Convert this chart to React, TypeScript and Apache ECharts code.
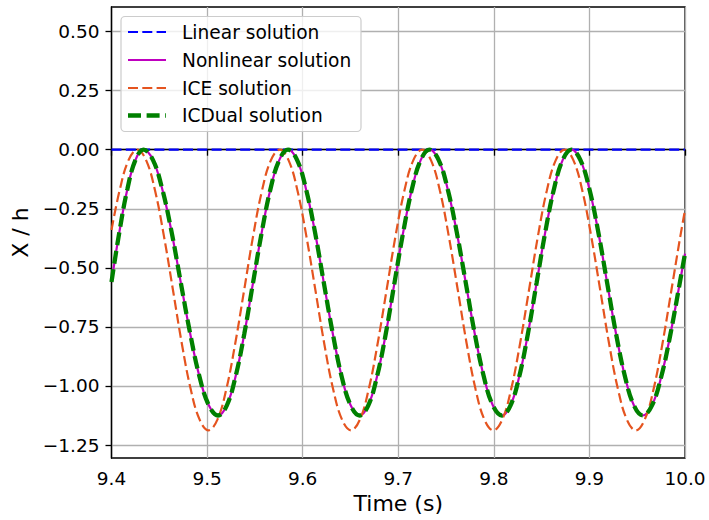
import React, { useEffect, useRef } from "react";
import * as echarts from "echarts";

const xTicks = [9.4, 9.5, 9.6, 9.7, 9.8, 9.9, 10.0];
const yTicks = [-1.25, -1.0, -0.75, -0.5, -0.25, 0.0, 0.25, 0.5];

const linearTime = [9.4, 10.0];
const linearX = [0, 0];

const nonlinearTime = [
  9.4, 9.4083, 9.4167, 9.4251, 9.4335,
  9.4433, 9.453, 9.4628, 9.4725, 9.4823, 9.492, 9.5018, 9.5115,
  9.5207, 9.5298, 9.539, 9.5481, 9.5573, 9.5664, 9.5756, 9.5847,
  9.5941, 9.6034, 9.6128, 9.6221, 9.6315, 9.6408, 9.6502, 9.6595,
  9.6687, 9.6778, 9.687, 9.6961, 9.7053, 9.7144, 9.7236, 9.7327,
  9.7422, 9.7516, 9.7611, 9.7706, 9.78, 9.7895, 9.7989, 9.8084,
  9.8175, 9.8266, 9.8357, 9.8448, 9.8539, 9.863, 9.8721, 9.8812,
  9.8905, 9.8999, 9.9092, 9.9185, 9.9278, 9.9372, 9.9465, 9.9558,
  9.9655, 9.9752, 9.9849, 9.9946, 10.0,
];
const nonlinearX = [
  -0.56, -0.347, -0.165, -0.043, 0,
  -0.043, -0.165, -0.347, -0.5625, -0.778, -0.96, -1.082, -1.125,
  -1.082, -0.96, -0.778, -0.5625, -0.347, -0.165, -0.043, 0,
  -0.043, -0.165, -0.347, -0.5625, -0.778, -0.96, -1.082, -1.125,
  -1.082, -0.96, -0.778, -0.5625, -0.347, -0.165, -0.043, 0,
  -0.043, -0.165, -0.347, -0.5625, -0.778, -0.96, -1.082, -1.125,
  -1.082, -0.96, -0.778, -0.5625, -0.347, -0.165, -0.043, 0,
  -0.043, -0.165, -0.347, -0.5625, -0.778, -0.96, -1.082, -1.125,
  -1.082, -0.96, -0.778, -0.5625, -0.44,
];

const iceTime = [
  9.4, 9.4084, 9.4177, 9.427,
  9.4363, 9.4456, 9.4549, 9.4643, 9.4736, 9.4829, 9.4922, 9.5015,
  9.5108, 9.5201, 9.5294, 9.5388, 9.5481, 9.5574, 9.5667, 9.576,
  9.5853, 9.5946, 9.6039, 9.6133, 9.6226, 9.6319, 9.6412, 9.6505,
  9.6598, 9.6691, 9.6784, 9.6878, 9.6971, 9.7064, 9.7157, 9.725,
  9.7343, 9.7436, 9.7529, 9.7623, 9.7716, 9.7809, 9.7902, 9.7995,
  9.8088, 9.8181, 9.8274, 9.8368, 9.8461, 9.8554, 9.8647, 9.874,
  9.8833, 9.8926, 9.9019, 9.9113, 9.9206, 9.9299, 9.9392, 9.9485,
  9.9578, 9.9671, 9.9764, 9.9858, 9.9951, 10.0,
];
const iceX = [
  -0.34, -0.174, -0.0452, 0,
  -0.0452, -0.174, -0.3667, -0.594, -0.8213, -1.014, -1.1428, -1.188,
  -1.1428, -1.014, -0.8213, -0.594, -0.3667, -0.174, -0.0452, 0,
  -0.0452, -0.174, -0.3667, -0.594, -0.8213, -1.014, -1.1428, -1.188,
  -1.1428, -1.014, -0.8213, -0.594, -0.3667, -0.174, -0.0452, 0,
  -0.0452, -0.174, -0.3667, -0.594, -0.8213, -1.014, -1.1428, -1.188,
  -1.1428, -1.014, -0.8213, -0.594, -0.3667, -0.174, -0.0452, 0,
  -0.0452, -0.174, -0.3667, -0.594, -0.8213, -1.014, -1.1428, -1.188,
  -1.1428, -1.014, -0.8213, -0.594, -0.3667, -0.256,
];

const icdualTime = nonlinearTime;
const icdualX = nonlinearX;

const seriesNames = ["Linear solution", "Nonlinear solution", "ICE solution", "ICDual solution"];

const zip = (t: number[], v: number[]) => t.map((ti, i) => [ti, v[i]]);

const FONT = "DejaVu Sans";

export default function App() {
  const ref = useRef<HTMLDivElement>(null);
  useEffect(() => {
    if (!ref.current) return;
    const chart = echarts.init(ref.current, null, { renderer: "svg" });
    const styles = [
      { color: "#0000ff", width: 2.2, type: [10, 4.3] },
      { color: "#bf00bf", width: 2.2, type: "solid" },
      { color: "#e5541f", width: 2.2, type: [10, 4.3] },
      { color: "#008000", width: 4.3, type: [13, 5.6] },
    ];
    const datas = [
      zip(linearTime, linearX),
      zip(nonlinearTime, nonlinearX),
      zip(iceTime, iceX),
      zip(icdualTime, icdualX),
    ];
    const legendTop = [32, 60, 88, 115.5];
    const legendEls: any[] = [
      {
        type: "rect",
        shape: { x: 121, y: 16.5, width: 240, height: 115, r: 4 },
        style: { fill: "rgba(255,255,255,0.8)", stroke: "#cccccc", lineWidth: 1.2 },
        z: 100,
      },
    ];
    seriesNames.forEach((name, i) => {
      const s = styles[i];
      legendEls.push({
        type: "line",
        shape: { x1: 128, y1: legendTop[i], x2: 166, y2: legendTop[i] },
        style: {
          stroke: s.color,
          lineWidth: s.width,
          lineDash: s.type === "solid" ? null : s.type,
        },
        z: 101,
      });
      legendEls.push({
        type: "text",
        x: 182,
        y: legendTop[i],
        style: {
          text: name,
          font: `18.6px '${FONT}'`,
          fill: "#000",
          verticalAlign: "middle",
          align: "left",
        },
        z: 101,
      });
    });

    chart.setOption({
      animation: false,
      backgroundColor: "#ffffff",
      grid: {
        left: 111.5,
        right: 24,
        top: 7,
        bottom: 62,
        show: true,
        borderColor: "#000",
        borderWidth: 1.3,
        backgroundColor: "transparent",
      },
      xAxis: {
        type: "value",
        min: 9.4,
        max: 10.0,
        name: "Time (s)",
        nameLocation: "middle",
        nameGap: 32,
        nameTextStyle: { fontFamily: FONT, fontSize: 22, color: "#000", verticalAlign: "top" },
        axisLine: { show: true, lineStyle: { color: "#000", width: 1.3 } },
        axisTick: { show: true, length: 6, lineStyle: { color: "#000", width: 1.3 }, customValues: xTicks },
        axisLabel: {
          customValues: xTicks,
          fontFamily: FONT,
          fontSize: 18.5,
          color: "#000",
          margin: 11,
          formatter: (v: number) => v.toFixed(1),
        },
        splitLine: { show: true, lineStyle: { color: "#b0b0b0", width: 1.3 } },
      },
      yAxis: {
        type: "value",
        min: -1.305,
        max: 0.604,
        name: "X / h",
        nameLocation: "middle",
        nameGap: 68,
        nameTextStyle: { fontFamily: FONT, fontSize: 22, color: "#000" },
        axisLine: { show: true, lineStyle: { color: "#000", width: 1.3 } },
        axisTick: { show: true, length: 6, lineStyle: { color: "#000", width: 1.3 }, customValues: yTicks },
        axisLabel: {
          customValues: yTicks,
          fontFamily: FONT,
          fontSize: 18.5,
          color: "#000",
          margin: 12,
          formatter: (v: number) => v.toFixed(2).replace("-", "\u2212"),
        },
        splitLine: { show: true, lineStyle: { color: "#b0b0b0", width: 1.3 } },
      },
      series: seriesNames.map((name, i) => ({
        name,
        type: "line",
        data: datas[i],
        showSymbol: false,
        symbol: "none",
        smooth: i === 0 ? false : 0.4,
        clip: true,
        lineStyle: { color: styles[i].color, width: styles[i].width, type: styles[i].type as any },
        z: 2 + i,
      })),
      graphic: legendEls,
    });
    return () => chart.dispose();
  }, []);
  return (
    <div
      ref={ref}
      style={{ position: "fixed", left: 0, top: 0, width: 709, height: 520 }}
    />
  );
}
